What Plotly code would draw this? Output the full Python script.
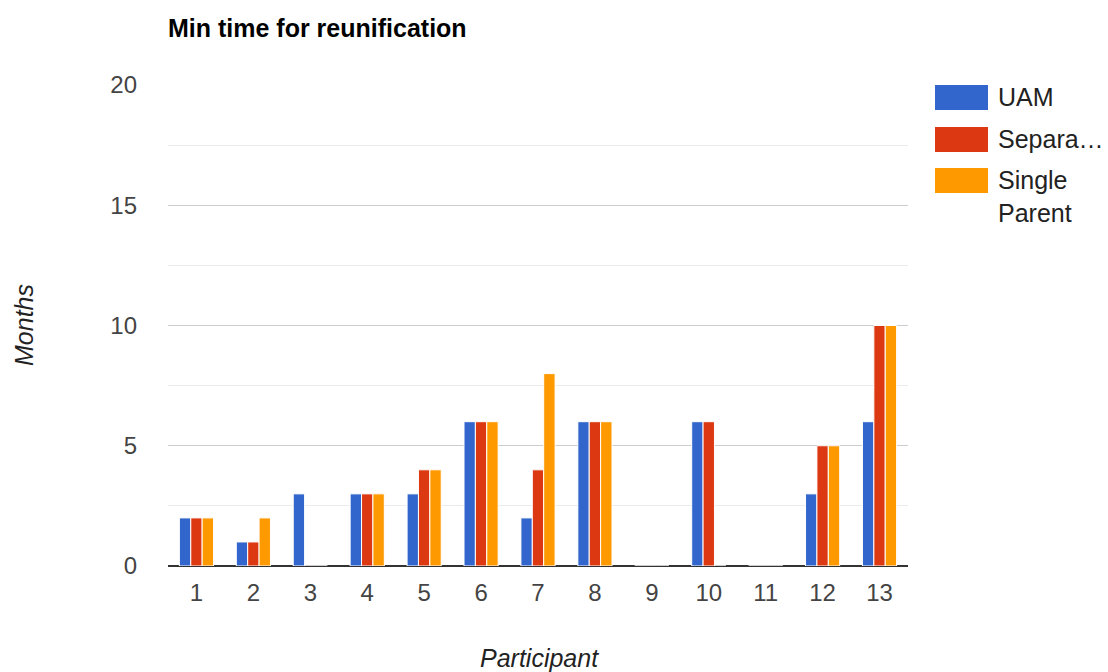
import plotly.graph_objects as go

participants = [str(i) for i in range(1, 14)]
uam = [2, 1, 3, 3, 3, 6, 2, 6, 0, 6, 0, 3, 6]
separated = [2, 1, 0, 3, 4, 6, 4, 6, 0, 6, 0, 5, 10]
single_parent = [2, 2, 0, 3, 4, 6, 8, 6, 0, 0, 0, 5, 10]

series = [
    ("UAM", uam, "#3366cc"),
    ("Separa…", separated, "#dc3912"),
    ("Single<br>Parent", single_parent, "#ff9900"),
]

FONT = "Liberation Sans, Arial, sans-serif"
W, H = 1108, 672
L, R, T, B = 168, 908, 85, 566  # plot area in pixels


def px_x(x):
    return (x - L) / (R - L)


def px_y(y):
    return (B - y) / (B - T)


fig = go.Figure()
for name, vals, color in series:
    fig.add_trace(go.Bar(
        x=participants, y=vals, name=name,
        marker=dict(color=color, line=dict(color="white", width=1)),
        showlegend=False,
    ))

# Legend: wide swatches with labels to the right of the plot
sw_top = [85, 127, 168]
for (name, _, color), top in zip(series, sw_top):
    fig.add_shape(type="rect", xref="paper", yref="paper",
                  x0=px_x(935), x1=px_x(988),
                  y0=px_y(top), y1=px_y(top + 25),
                  fillcolor=color, line=dict(width=0))
    fig.add_annotation(xref="paper", yref="paper",
                       x=px_x(996), y=px_y(top - 4),
                       text=name, showarrow=False, xanchor="left", yanchor="top",
                       align="left",
                       font=dict(family=FONT, size=25, color="#222"))

# Axis titles
fig.add_annotation(xref="paper", yref="paper", x=px_x(24), y=px_y(325),
                   text="<i>Months</i>", textangle=-90, showarrow=False,
                   xanchor="center", yanchor="middle",
                   font=dict(family=FONT, size=25, color="#222"))
fig.add_annotation(xref="paper", yref="paper", x=px_x(539), y=px_y(658),
                   text="<i>Participant</i>", showarrow=False,
                   xanchor="center", yanchor="middle",
                   font=dict(family=FONT, size=25, color="#222"))

fig.update_layout(
    width=W, height=H,
    margin=dict(l=L, r=W - R, t=T, b=H - B),
    paper_bgcolor="white", plot_bgcolor="white",
    bargap=0.4, bargroupgap=0,
    barmode="group",
    title=dict(text="<b>Min time for reunification</b>", x=L / W, xanchor="left",
               y=1 - 28 / H, yanchor="middle",
               font=dict(family=FONT, size=25, color="#000")),
    font=dict(family=FONT, size=24, color="#444"),
)
fig.update_yaxes(
    range=[0, 20], dtick=5, tick0=0,
    gridcolor="#cccccc", gridwidth=1,
    minor=dict(dtick=2.5, gridcolor="#ebebeb", showgrid=True),
    zeroline=True, zerolinecolor="#333333", zerolinewidth=2,
    ticks="", ticklabelstandoff=30,
    tickfont=dict(family=FONT, size=24, color="#444"),
)
fig.update_xaxes(
    showgrid=False, ticks="", ticklabelstandoff=10,
    tickfont=dict(family=FONT, size=24, color="#444"),
)

fig.write_html("out.html")
